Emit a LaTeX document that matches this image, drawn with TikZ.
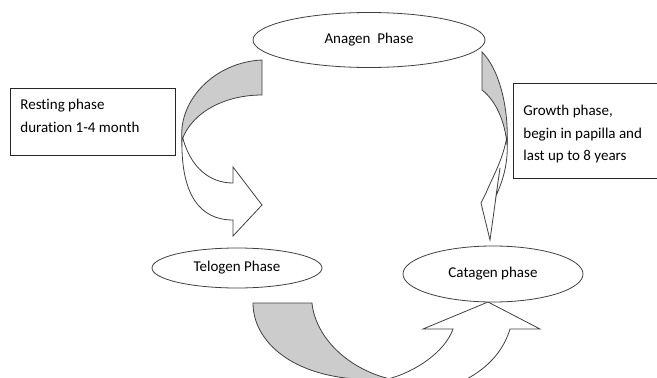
\documentclass[tikz,border=0pt]{standalone}
\usepackage{fontspec}
\setmainfont{Carlito}[Ligatures=NoCommon]
\usetikzlibrary{shapes.geometric}
\begin{document}
\begin{tikzpicture}[x=1pt,y=-1pt,
  outl/.style={draw=black!75, line width=0.8pt},
  phase/.style={ellipse, outl, fill=white, inner sep=0pt, font=\fontsize{15}{18}\selectfont},
  note/.style={draw=black!85, line width=0.8pt, fill=white, anchor=north west, inner xsep=10pt, inner ysep=0pt, font=\fontsize{15}{22.5}\selectfont},
  back/.style={outl, fill=black!20},
  front/.style={outl, fill=white}]
\useasboundingbox (0,0) rectangle (657,378);
\clip (0,0) rectangle (657,378);

% left curved arrow
\draw[front] (182,135) .. controls (180,195) and (200,220) .. (233,220)
  -- (233,236) -- (262,205) -- (233,167) -- (233,183)
  .. controls (210,183) and (190,168) .. (182,135);
\draw[back] (262,60) -- (262,95) .. controls (225,95) and (192,112) .. (182,140)
  .. controls (178,100) and (215,62) .. (262,60) -- cycle;

% right curved arrow
\draw[front] (507,136) .. controls (509,165) and (502,182) .. (496,196)
  -- (500,168) -- (490,240) -- (481,203) -- (486,193)
  .. controls (493,176) and (503,160) .. (507,136);
\draw[back] (482,52) -- (482,90) .. controls (495,100) and (505,120) .. (507,145)
  .. controls (509,110) and (500,70) .. (482,52) -- cycle;

% bottom curved arrow
\draw[front] (388,379) .. controls (415,372) and (445,352) .. (453,329)
  -- (423,329) -- (488,302) -- (540,329) -- (510,329)
  .. controls (500,362) and (470,385) .. (420,395) -- (380,395) -- cycle;
\draw[back] (253,303) -- (312,303) .. controls (315,335) and (345,368) .. (390,379)
  .. controls (300,385) and (253,345) .. (253,303) -- cycle;

% phases
\node[phase, minimum width=232pt, minimum height=55pt] (anagen) at (369,40) {Anagen\ \ Phase};
\node[phase, minimum width=170pt, minimum height=40pt] (telogen) at (237,268) {Telogen Phase};
\node[phase, minimum width=180pt, minimum height=56pt] (catagen) at (493,274) {Catagen phase};

% notes
\node[note] (rest) at (10,88) {\parbox[c][67pt][t]{145pt}{\raggedright\vspace*{11pt}Resting phase\\duration 1-4 month}};
\node[note] (growth) at (513,83) {\parbox[c][95pt][t]{124pt}{\raggedright\vspace*{22pt}Growth phase,\\begin in papilla and\\last up to 8 years}};
\end{tikzpicture}
\end{document}
